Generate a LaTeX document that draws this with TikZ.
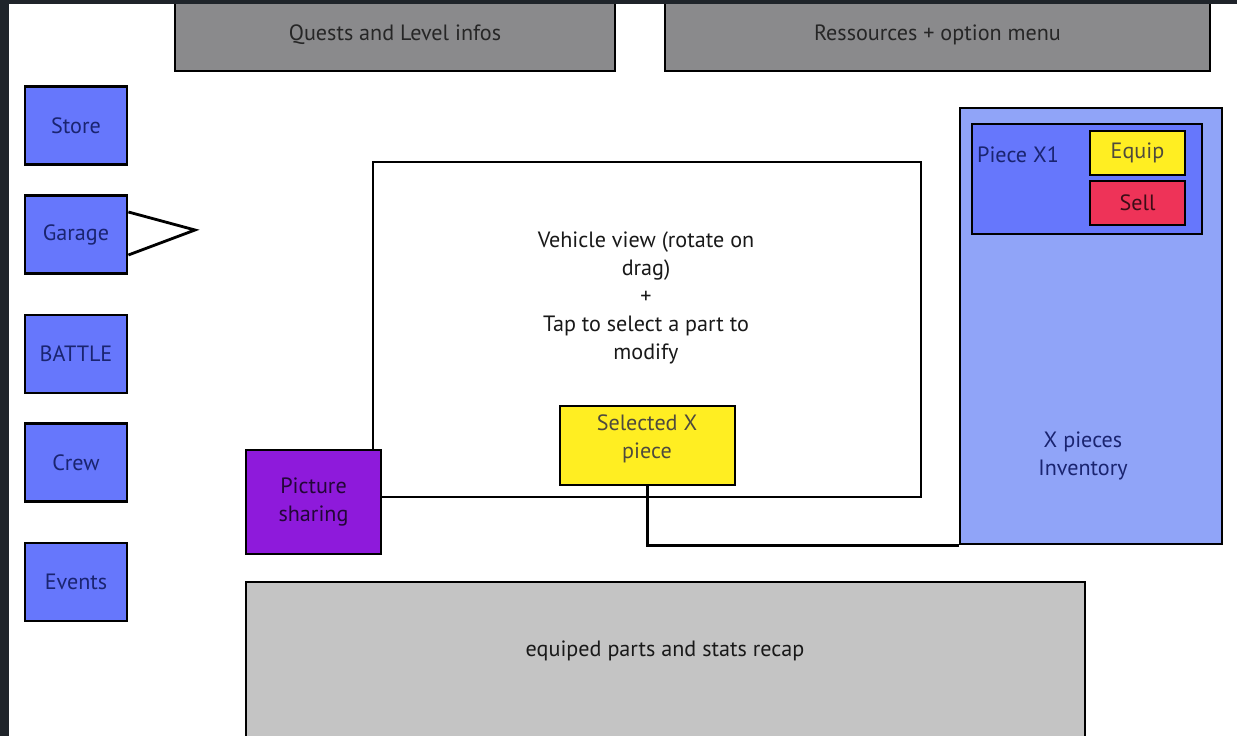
\documentclass[tikz,border=0pt]{standalone}
\usepackage{fontspec}
\setmainfont{PT Sans}
\definecolor{framedark}{HTML}{1F242A}
\definecolor{topgray}{HTML}{8A8A8C}
\definecolor{btnblue}{HTML}{6677FC}
\definecolor{invblue}{HTML}{90A4F8}
\definecolor{selyellow}{HTML}{FFEE22}
\definecolor{sellred}{HTML}{EE3358}
\definecolor{sharepurple}{HTML}{8E1ADB}
\definecolor{recapgray}{HTML}{C4C4C4}
\definecolor{navytxt}{HTML}{1A2470}
\begin{document}
\begin{tikzpicture}[x=0.02cm,y=-0.02cm,line join=miter,
	box/.style={draw=black,line width=1.6pt,inner sep=0pt,align=center,font=\fontsize{12.6}{16}\selectfont},
	txt/.style={inner sep=0pt,align=center,font=\fontsize{12.6}{16}\selectfont},
	sz/.style 2 args={minimum width=#1*0.02cm,minimum height=#2*0.02cm}]
	\useasboundingbox (0,0) rectangle (1237,736);
	\fill[white] (0,0) rectangle (1237,736);
	% top bars
	\node[box,fill=topgray,sz={440}{72},text=black!85] (quests) at (395,35) {Quests and Level infos};
	\node[box,fill=topgray,sz={545}{72},text=black!85] (ressources) at (937.5,35) {Ressources + option menu};
	% left menu
	\foreach \y/\name/\lbl in {125.5/store/Store,234.5/garage/Garage,354/battle/BATTLE,462.5/crew/Crew,582/events/Events}
		\node[box,fill=btnblue,sz={102}{78},text=navytxt] (\name) at (76,\y) {\lbl};
	\coordinate (tip) at (195,230);
	\draw[line width=1.6pt] ([yshift=0.45cm]garage.east) -- (tip) -- ([yshift=-0.41cm]garage.east);
	% vehicle view
	\node[box,sz={548}{335}] (view) at (647,329.5) {};
	\node[txt,text=black!90] (viewtxt) at (646,298) {Vehicle view (rotate on\\drag)\\+\\Tap to select a part to\\modify};
	\node[box,fill=selyellow,sz={175}{79}] (selected) at (647.5,445.5) {};
	\node[txt,text=black!80!yellow] (seltxt) at (647,439) {Selected X\\piece};
	\node[box,fill=sharepurple,sz={135}{104},text=black!75!sharepurple] (sharing) at (313.5,502) {Picture\\sharing};
	% inventory
	\node[box,fill=invblue,sz={262}{436}] (inventory) at (1091,326) {};
	\node[txt,text=navytxt] (invtxt) at (1083,456) {X pieces\\Inventory};
	\node[box,fill=btnblue,sz={230}{110}] (piece) at (1087,179) {};
	\node[txt,text=navytxt] (piecetxt) at (1018,155) {Piece X1};
	\node[box,fill=selyellow,sz={95}{44},text=black!80!yellow] (equip) at (1137.5,153) {Equip};
	\node[box,fill=sellred,sz={95}{44},text=black!75!sellred] (sell) at (1137.5,203) {Sell};
	\draw[line width=1.6pt] (selected.south) |- (inventory.south west);
	% recap
	\node[box,fill=recapgray,sz={839}{163}] (recap) at (665.5,663.5) {};
	\node[txt,text=black!90] (recaptxt) at (665,651) {equiped parts and stats recap};
	% frame
	\fill[framedark] (0,0) rectangle (9,736);
	\fill[framedark] (0,0) rectangle (1237,4);
\end{tikzpicture}
\end{document}
